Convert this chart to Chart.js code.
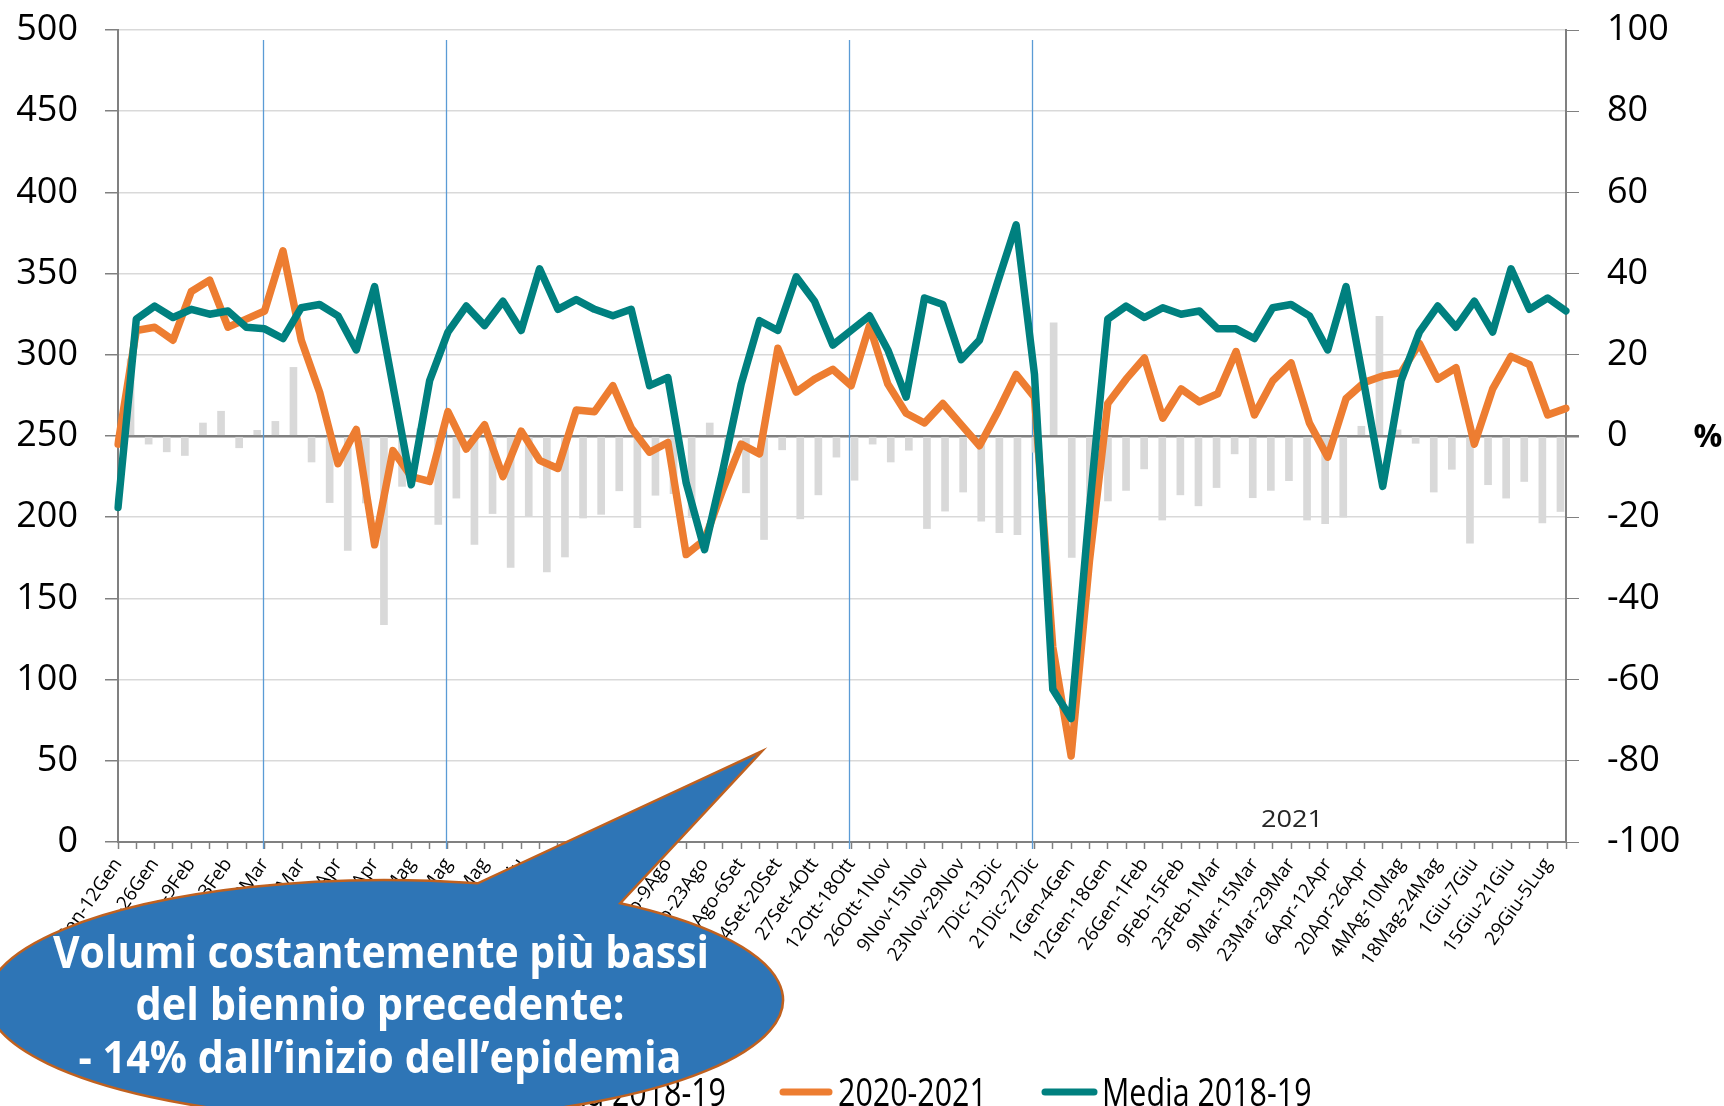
<!DOCTYPE html>
<html>
<head>
<meta charset="utf-8">
<script src="https://cdn.jsdelivr.net/npm/chart.js@4.4.1/dist/chart.umd.min.js"></script>
<style>
  body { margin: 0; background: #fff; }
  #wrap { width: 1724px; height: 1106px; }
</style>
</head>
<body>
<div id="wrap"><canvas id="myChart" width="1724" height="1106"></canvas></div>
<script>
// weekly categories (2020 then 2021)
const weeks = [
  '6Gen-12Gen', '13Gen-19Gen', '20Gen-26Gen', '27Gen-2Feb', '3Feb-9Feb', '10Feb-16Feb',
  '17Feb-23Feb', '24Feb-1Mar', '2Mar-8Mar', '9Mar-15Mar', '16Mar-22Mar', '23Mar-29Mar',
  '30Mar-5Apr', '6Apr-12Apr', '13Apr-19Apr', '20Apr-26Apr', '27Apr-3Mag', '4Mag-10Mag',
  '11Mag-17Mag', '18Mag-24Mag', '25Mag-31Mag', '1Giu-7Giu', '8Giu-14Giu', '15Giu-21Giu',
  '22Giu-28Giu', '29Giu-5Lug', '6Lug-12Lug', '13Lug-19Lug', '20Lug-26Lug', '27Lug-2Ago',
  '3Ago-9Ago', '10Ago-16Ago', '17Ago-23Ago', '24Ago-30Ago', '31Ago-6Set', '7Set-13Set',
  '14Set-20Set', '21Set-27Set', '27Set-4Ott', '5Ott-11Ott', '12Ott-18Ott', '19Ott-25Ott',
  '26Ott-1Nov', '2Nov-8Nov', '9Nov-15Nov', '16Nov-22Nov', '23Nov-29Nov', '30Nov-6Dic',
  '7Dic-13Dic', '14Dic-20Dic', '21Dic-27Dic', '28Dic-31Dic',
  '1Gen-4Gen', '5Gen-11Gen', '12Gen-18Gen', '19Gen-25Gen', '26Gen-1Feb', '2Feb-8Feb',
  '9Feb-15Feb', '16Feb-22Feb', '23Feb-1Mar', '2Mar-8Mar', '9Mar-15Mar', '16Mar-22Mar',
  '23Mar-29Mar', '30Mar-5Apr', '6Apr-12Apr', '13Apr-19Apr', '20Apr-26Apr', '27Apr-3Mag',
  '4MAg-10Mag', '11Mag-17Mag', '18Mag-24Mag', '25Mag-31Mag', '1Giu-7Giu', '8Giu-14Giu',
  '15Giu-21Giu', '22Giu-28Giu', '29Giu-5Lug', '6Lug-12Lug'
];

// 2020-2021 volumes (left axis)
const vol2021 = [
  245, 315, 317, 309, 339, 346, 317, 322, 327, 364,
  309, 277, 233, 254, 183, 241, 225, 222, 265, 242,
  257, 225, 253, 235, 230, 266, 265, 281, 255, 240,
  246, 177, 186, 217, 245, 239, 304, 277, 285, 291,
  281, 318, 282, 264, 258, 270, 257, 244, 265, 288,
  274, 120, 53, 173, 270, 285, 298, 261, 279, 271,
  276, 302, 263, 284, 295, 258, 237, 273, 283, 287,
  289, 307, 285, 292, 245, 279, 299, 294, 263, 267
];

// media 2018-19 (left axis)
const media1819 = [
  206, 322, 330, 323, 328, 325, 327, 317, 316, 310,
  329, 331, 324, 303, 342, 281, 220, 284, 314, 330,
  318, 333, 315, 353, 328, 334, 328, 324, 328, 281,
  286, 221, 180, 229, 282, 321, 315, 348, 333, 306,
  315, 324, 303, 274, 335, 331, 297, 309, 345, 380,
  288, 94, 76, 205, 322, 330, 323, 329, 325, 327,
  316, 316, 310, 329, 331, 324, 303, 342, 281, 219,
  284, 314, 330, 317, 333, 314, 353, 328, 335, 327
];

// % variation (right axis, grey bars)
const varPct = [
  19, -2, -3.9, -4.8, 3.2, 6.1, -2.9, 1.4, 3.6, 16.9,
  -6.4, -16.4, -28.2, -16.5, -46.5, -12.4, 1.8, -21.8, -15.3, -26.7,
  -19.1, -32.4, -19.8, -33.5, -29.8, -20.2, -19.3, -13.5, -22.6, -14.6,
  -14.2, -20.1, 3.2, -4, -14, -25.5, -3.4, -20.4, -14.5, -5.2,
  -10.9, -2, -6.4, -3.5, -22.8, -18.5, -13.8, -21, -23.8, -24.3,
  -4, 27.9, -29.9, -15.8, -16, -13.4, -8.1, -20.7, -14.5, -17.2,
  -12.7, -4.4, -15.2, -13.4, -11, -20.7, -21.6, -20, 2.4, 29.5,
  1.5, -1.8, -13.8, -8.2, -26.4, -12, -15.3, -11.2, -21.4, -18.6
];

// weeks marked by the thin blue vertical lines
const markerWeeks = [8, 18, 40, 50];

const legendNames = ['Var. % su Media 2018-19', '2020-2021', 'Media 2018-19'];
const calloutLines = [
  'Volumi costantemente più bassi',
  'del biennio precedente:',
  '- 14% dall\u2019inizio dell\u2019epidemia'
];

const ORANGE = '#ed7d31';
const TEAL = '#00807f';
const GREY = '#d9d9d9';
const AXIS = '#808080';

// blue vertical markers, behind the lines
const markersPlugin = {
  id: 'markers',
  beforeDatasetsDraw(chart) {
    const ctx = chart.ctx;
    const x = chart.scales.x;
    ctx.save();
    ctx.strokeStyle = '#5b9bd5';
    ctx.lineWidth = 1.3;
    markerWeeks.forEach(function (w) {
      const px = Math.round(x.getPixelForValue(w)) - 1.5;
      ctx.beginPath();
      ctx.moveTo(px, 40);
      ctx.lineTo(px, chart.chartArea.bottom + 7);
      ctx.stroke();
    });
    ctx.restore();
  }
};

function scaledText(ctx, text, x, y, sx, align) {
  ctx.save();
  ctx.translate(x, y);
  ctx.scale(sx, 1);
  ctx.textAlign = align;
  ctx.fillText(text, 0, 0);
  ctx.restore();
}

function fitText(ctx, text, cx, y, width) {
  const w = ctx.measureText(text).width;
  scaledText(ctx, text, cx, y, width / w, 'center');
}

// legend, labels and the speech bubble
const extrasPlugin = {
  id: 'extras',
  afterDraw(chart) {
    const ctx = chart.ctx;
    ctx.save();

    // "%" and "2021"
    ctx.fillStyle = '#000';
    ctx.font = 'bold 32px "Open Sans"';
    ctx.textAlign = 'center';
    ctx.textBaseline = 'middle';
    ctx.fillText('%', 1708, 438);
    ctx.fillStyle = '#262626';
    ctx.font = '23px "Open Sans"';
    fitText(ctx, '2021', 1292, 820, 62);

    // legend
    ctx.textBaseline = 'alphabetic';
    ctx.font = '38px "Open Sans"';
    const ly = 1092;
    ctx.lineCap = 'round';
    ctx.lineWidth = 7;
    // bars item (mostly under the bubble)
    ctx.fillStyle = GREY;
    ctx.fillRect(300, ly - 8, 16, 16);
    ctx.fillStyle = '#000';
    scaledText(ctx, legendNames[0], 726, 1106, 0.8, 'right');
    ctx.strokeStyle = ORANGE;
    ctx.beginPath(); ctx.moveTo(783, ly); ctx.lineTo(829, ly); ctx.stroke();
    scaledText(ctx, legendNames[1], 838, 1106, 0.8, 'left');
    ctx.strokeStyle = TEAL;
    ctx.beginPath(); ctx.moveTo(1045, ly); ctx.lineTo(1094, ly); ctx.stroke();
    scaledText(ctx, legendNames[2], 1102, 1106, 0.8, 'left');

    // speech bubble
    const cx = 385, cy = 1000, rx = 398, ry = 120;
    const tip = [762, 751], bl = [478, 883], br = [616, 905];
    const aL = Math.atan2((bl[1] - cy) / ry, (bl[0] - cx) / rx) + 2 * Math.PI;
    const aR = Math.atan2((br[1] - cy) / ry, (br[0] - cx) / rx);
    ctx.beginPath();
    ctx.ellipse(cx, cy, rx, ry, 0, aR, aL, false);
    ctx.lineTo(tip[0], tip[1]);
    ctx.closePath();
    ctx.fillStyle = '#2e75b6';
    ctx.fill();
    ctx.lineCap = 'butt';
    ctx.lineJoin = 'miter';
    ctx.lineWidth = 2.5;
    ctx.strokeStyle = '#c0611f';
    ctx.stroke();

    ctx.fillStyle = '#fff';
    ctx.font = 'bold 44px "Open Sans"';
    ctx.textBaseline = 'alphabetic';
    fitText(ctx, calloutLines[0], 381, 968, 656);
    fitText(ctx, calloutLines[1], 380, 1020, 489);
    fitText(ctx, calloutLines[2], 380, 1073, 603);

    ctx.restore();
  }
};

// keep the plot box fixed, whatever the tick label sizes
function fixVertical(width) {
  return function (s) {
    s.width = width;
    s.paddingTop = 0;
    s.paddingBottom = 0;
  };
}

const ctx = document.getElementById('myChart').getContext('2d');
const chart = new Chart(ctx, {
  type: 'line',
  data: {
    labels: weeks,
    datasets: [
      {
        label: legendNames[2],
        data: media1819,
        borderColor: TEAL,
        borderWidth: 7.5,
        pointRadius: 0,
        borderJoinStyle: 'round',
        borderCapStyle: 'round',
        tension: 0,
        xAxisID: 'x',
        yAxisID: 'y',
        order: 1
      },
      {
        label: legendNames[1],
        data: vol2021,
        borderColor: ORANGE,
        borderWidth: 7.5,
        pointRadius: 0,
        borderJoinStyle: 'round',
        borderCapStyle: 'round',
        tension: 0,
        xAxisID: 'x',
        yAxisID: 'y',
        order: 2
      },
      {
        type: 'bar',
        label: legendNames[0],
        data: varPct,
        backgroundColor: GREY,
        barThickness: 7,
        xAxisID: 'x2',
        yAxisID: 'y2',
        order: 3
      }
    ]
  },
  options: {
    responsive: false,
    animation: false,
    layout: { padding: { top: 30, left: 0, right: 0, bottom: 114 } },
    plugins: {
      legend: { display: false },
      tooltip: { enabled: false }
    },
    scales: {
      x: {
        type: 'category',
        offset: false,
        grid: { drawOnChartArea: false, offset: false, tickLength: 7, tickColor: AXIS, tickWidth: 1.5 },
        border: { color: AXIS, width: 2 },
        ticks: {
          autoSkip: false,
          minRotation: 55,
          maxRotation: 55,
          padding: 5,
          color: '#000',
          font: { family: 'Open Sans', size: 19 },
          callback: function (v, i) { return i % 2 === 0 ? weeks[i] : ''; }
        },
        afterFit: function (s) { s.height = 150; s.paddingLeft = 0; s.paddingRight = 0; }
      },
      x2: {
        type: 'category',
        labels: weeks,
        offset: true,
        display: false
      },
      y: {
        position: 'left',
        min: 0,
        max: 500,
        grid: { color: GREY, lineWidth: 1.5, tickLength: 13, tickColor: AXIS },
        border: { color: AXIS, width: 2 },
        ticks: {
          stepSize: 50,
          padding: 27,
          color: '#000',
          font: { family: 'Open Sans', size: 36 }
        },
        afterFit: fixVertical(118)
      },
      y2: {
        position: 'right',
        min: -100,
        max: 100,
        grid: {
          color: function (c) { return c.tick && c.tick.value === 0 ? AXIS : 'rgba(0,0,0,0)'; },
          lineWidth: function (c) { return c.tick && c.tick.value === 0 ? 2.5 : 1; },
          tickLength: 13,
          tickColor: AXIS
        },
        border: { color: AXIS, width: 2 },
        ticks: {
          stepSize: 20,
          padding: 28,
          color: '#000',
          font: { family: 'Open Sans', size: 36 }
        },
        afterFit: fixVertical(158)
      }
    }
  },
  plugins: [markersPlugin, extrasPlugin]
});
</script>
</body>
</html>
